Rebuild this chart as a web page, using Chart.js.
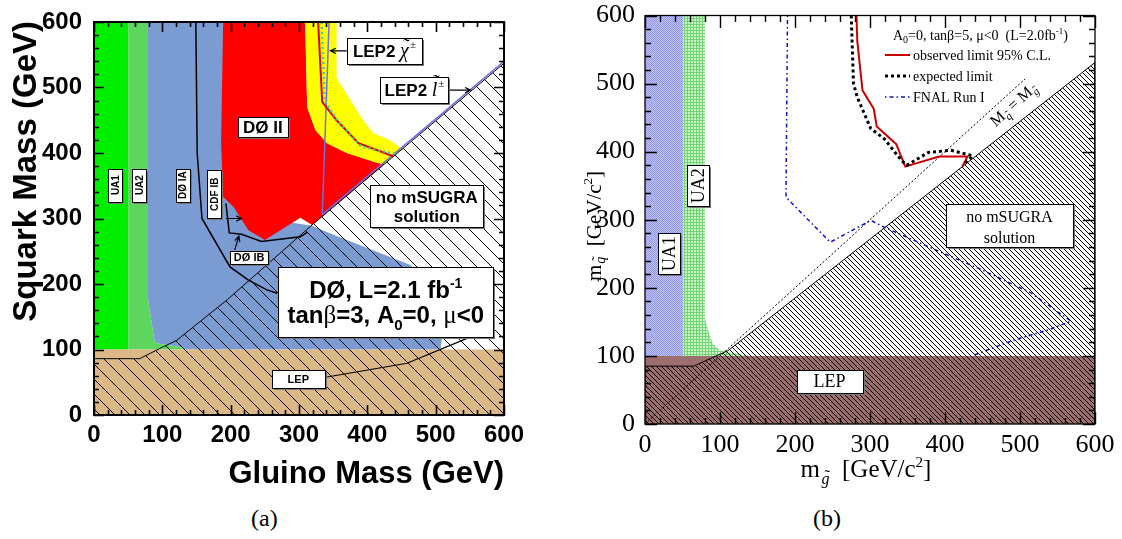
<!DOCTYPE html>
<html>
<head>
<meta charset="utf-8">
<script src="https://cdn.jsdelivr.net/npm/chart.js@4/dist/chart.umd.min.js"></script>
<style>
body { margin: 0; background: #fff; width: 1122px; height: 539px; position: relative; overflow: hidden; }
canvas { position: absolute; top: 0; }
#chartA { left: 0; }
#chartB { left: 570px; }
.cap { position: absolute; top: 505px; font: 24px "Liberation Serif", serif; color: #000; }
</style>
</head>
<body>
<canvas id="chartA" width="530" height="500"></canvas>
<canvas id="chartB" width="552" height="500"></canvas>
<div class="cap" style="left:251px">(a)</div>
<div class="cap" style="left:813px">(b)</div>
<script>
const SANS = '"Liberation Sans", Arial, sans-serif';
const SERIF = '"Liberation Serif", "Times New Roman", serif';

const massTicks = [0, 100, 200, 300, 400, 500, 600];

// (a) tanb=3, points are [gluino, squark] in GeV
const ua1A = [[0,100],[0,600],[50,600],[50,100]];
const ua2A = [[50,100],[50,600],[79,600],[79,176],[89,110],[126,104],[135,100]];
const tevA = [[79,600],[200,600],[250,300],[319,289],[346,277],[463,229],[500,190],[512,140],[507,100],[135,100],[126,104],[89,110],[79,176]];
const d0IIA = [[189,600],[186,415],[189,333],[204,318],[226,282],[250,267],[302,301],[319,290],[425,383],[414,385],[370,400],[341,415],[324,435],[312,470],[309,600]];
const bandA = [[309,600],[312,470],[324,435],[341,415],[370,400],[414,385],[425,383],[446,402],[453,405],[433,420],[409,430],[394,450],[380,473],[355,515],[355,600]];
const lepA = [[0,0],[0,100],[600,100],[600,0]];
const noSolA = [[0,0],[0,86],[67,86],[97,102],[121,114],[195,176],[319,290],[600,537],[600,0]];
const d0IaA = [[149,600],[151,400],[158,300],[199,226],[226,206],[253,191],[268,186]];
const d0IbA = [[193,323],[198,278],[216,276],[245,265],[302,272],[312,279]];
const lepLineA = [[341,58],[458,79],[546,117]];
const charginoA = [[344,600],[337,393],[334,306]];
const sleptonA = [[334,306],[600,540]];
const obsA = [[328,600],[334,478],[355,450],[387,415],[438,395]];
const expA = [[333,600],[338,478],[359,446],[391,410],[442,398]];
const arrowsA = [[193,300,216,300],[206,252,212,273],[370,556,346,556],[518,496,551,496]];

// (b) tanb=5
const ua1B = [[0,100],[0,600],[51,600],[51,100]];
const ua2B = [[51,100],[51,600],[80,600],[80,155],[85,135],[90,119],[100,108],[140,100]];
const lepB = [[0,0],[0,100],[600,100],[600,0]];
const noSolB = [[0,0],[0,85],[65,85],[111,108],[600,531],[600,0]];
const equalB = [[0,0],[507,507]];
const obsB = [[282,600],[283,563],[290,490],[305,463],[309,437],[335,411],[347,378],[392,393],[430,393],[423,378]];
const expB = [[275,600],[278,500],[283,480],[301,434],[319,419],[342,387],[349,380],[378,399],[408,402],[437,394],[426,382]];
const fnalB = [[190,600],[188,333],[247,267],[301,299],[319,289],[393,253],[446,228],[514,193],[568,151],[537,138],[491,123],[438,101]];

function tile(size, draw) {
    const c = document.createElement('canvas');
    c.width = size; c.height = size;
    const g = c.getContext('2d');
    draw(g, size);
    return g.createPattern(c, 'repeat');
}
function stripes(s, lw) {
    return tile(s, (g) => {
        g.strokeStyle = '#000'; g.lineWidth = lw;
        g.beginPath();
        for (let k = -1; k <= 1; k++) { g.moveTo(-1, -1 + k * s); g.lineTo(s + 1, s + 1 + k * s); }
        g.stroke();
    });
}
const hatchA = stripes(15, 1);
const hatchB = stripes(5, 1);
const checkB = tile(2, (g) => {
    g.fillStyle = '#c2c5fa'; g.fillRect(0, 0, 2, 2);
    g.fillStyle = '#8f95ee'; g.fillRect(0, 0, 1, 1); g.fillRect(1, 1, 1, 1);
});
const gridB = tile(3, (g) => {
    g.fillStyle = '#cbf4cb'; g.fillRect(0, 0, 3, 3);
    g.fillStyle = '#72d672'; g.fillRect(0, 0, 1, 3); g.fillRect(0, 0, 3, 1);
});

const pts = arr => arr.map(([x, y]) => ({x, y}));
function area(arr, bg, border) {
    return {data: pts(arr), showLine: true, fill: 'shape', backgroundColor: bg,
        borderColor: border || 'rgba(0,0,0,0)', borderWidth: border ? 1 : 0, pointRadius: 0};
}
function curve(arr, color, width, dash) {
    return {data: pts(arr), showLine: true, fill: false, borderColor: color,
        borderWidth: width, borderDash: dash || [], pointRadius: 0};
}
function stack(list) {
    // first entry ends up at the bottom
    list.forEach((d, i) => { d.order = list.length - i; });
    return list;
}

// part = [text, font, dy, tildeRaise]
function txt(ctx, parts, x, y, align) {
    let w = 0;
    for (const p of parts) { ctx.font = p[1]; w += ctx.measureText(p[0]).width; }
    let cx = align === 'center' ? x - w / 2 : (align === 'right' ? x - w : x);
    ctx.textBaseline = 'alphabetic'; ctx.fillStyle = '#000';
    for (const p of parts) {
        ctx.font = p[1];
        ctx.textAlign = 'left';
        const pw = ctx.measureText(p[0]).width;
        ctx.fillText(p[0], cx, y + (p[2] || 0));
        if (p[3] !== undefined) {
            ctx.textAlign = 'center';
            ctx.fillText('\u02DC', cx + pw * 0.6, y + (p[2] || 0) - p[3]);
        }
        cx += pw;
    }
    ctx.textAlign = 'left';
}
function pave(ctx, cx, cy, w, h) {
    const x0 = Math.round(cx - w / 2) + 0.5, y0 = Math.round(cy - h / 2) + 0.5;
    ctx.fillStyle = '#777'; ctx.fillRect(x0 + 1.5, y0 + 1.5, w, h);
    ctx.fillStyle = '#fff'; ctx.fillRect(x0, y0, w, h);
    ctx.strokeStyle = '#000'; ctx.lineWidth = 1; ctx.setLineDash([]);
    ctx.strokeRect(x0, y0, w, h);
}
function vlabel(ctx, c, w, h, text, font, size) {
    pave(ctx, c[0], c[1], w, h);
    ctx.save();
    ctx.translate(c[0], c[1]);
    ctx.rotate(-Math.PI / 2);
    txt(ctx, [[text, font]], 0, size * 0.36, 'center');
    ctx.restore();
}
function arrow(ctx, a, b) {
    const ang = Math.atan2(b[1] - a[1], b[0] - a[0]);
    ctx.strokeStyle = '#000'; ctx.lineWidth = 1.2; ctx.setLineDash([]);
    ctx.beginPath(); ctx.moveTo(a[0], a[1]); ctx.lineTo(b[0], b[1]);
    ctx.moveTo(b[0] - 6 * Math.cos(ang - 0.45), b[1] - 6 * Math.sin(ang - 0.45));
    ctx.lineTo(b[0], b[1]);
    ctx.lineTo(b[0] - 6 * Math.cos(ang + 0.45), b[1] - 6 * Math.sin(ang + 0.45));
    ctx.stroke();
}
// frame plus inward ticks on all four sides: major every 100, minor every 20
function drawTicks(chart, lw, tw, maj, mnr) {
    const ctx = chart.ctx;
    const a = chart.chartArea;
    const sx = chart.scales.x, sy = chart.scales.y;
    const l = Math.round(a.left), r = Math.round(a.right), t = Math.round(a.top), b = Math.round(a.bottom);
    const step = (massTicks[1] - massTicks[0]) / 5;
    const n = (massTicks[massTicks.length - 1] - massTicks[0]) / step;
    ctx.save();
    ctx.setLineDash([]);
    ctx.strokeStyle = '#000';
    ctx.lineWidth = tw;
    ctx.beginPath();
    for (let i = 0; i <= n; i++) {
        const v = massTicks[0] + i * step;
        const L = (i % 5 === 0) ? maj : mnr;
        const px = Math.round(sx.getPixelForValue(v)) + 0.5;
        const py = Math.round(sy.getPixelForValue(v)) + 0.5;
        ctx.moveTo(px, b); ctx.lineTo(px, b - L);
        ctx.moveTo(px, t); ctx.lineTo(px, t + L);
        ctx.moveTo(l, py); ctx.lineTo(l + L, py);
        ctx.moveTo(r, py); ctx.lineTo(r - L, py);
    }
    ctx.stroke();
    ctx.lineWidth = lw;
    ctx.strokeRect(a.left, a.top, a.right - a.left, a.bottom - a.top);
    ctx.restore();
}

const B = s => `bold ${s}px ${SANS}`;
const R = s => `${s}px ${SERIF}`;
const I = s => `italic ${s}px ${SERIF}`;

const decorA = {
    id: 'decorA',
    afterDatasetsDraw(chart) {
        const {ctx, scales: {x, y}} = chart;
        const P = (gx, gy) => [x.getPixelForValue(gx), y.getPixelForValue(gy)];
        ctx.save();
        arrowsA.forEach(([x0, y0, x1, y1]) => arrow(ctx, P(x0, y0), P(x1, y1)));
        vlabel(ctx, P(31, 351), 14, 33, 'UA1', B(10), 10);
        vlabel(ctx, P(66, 351), 14, 33, 'UA2', B(10), 10);
        vlabel(ctx, P(130, 351), 14, 33, 'DØ IA', B(10), 10);
        vlabel(ctx, P(176, 337), 14, 48, 'CDF IB', B(10), 10);
        let c = P(227, 241); pave(ctx, c[0], c[1], 38, 13); txt(ctx, [['DØ IB', B(11)]], c[0], c[1] + 4, 'center');
        c = P(247, 440); pave(ctx, c[0], c[1], 50, 20); txt(ctx, [['DØ II', B(17)]], c[0], c[1] + 6, 'center');
        c = P(425, 556); pave(ctx, c[0], c[1], 75, 26);
        txt(ctx, [['LEP2 ', B(17)], ['χ', I(20), 0, 4], [' ', R(4)], ['±', R(11), -9]], c[0], c[1] + 6, 'center');
        c = P(469, 496); pave(ctx, c[0], c[1], 68, 26);
        txt(ctx, [['LEP2 ', B(17)], ['l', I(20), 0, 7], [' ', R(4)], ['±', R(11), -9]], c[0], c[1] + 6, 'center');
        c = P(487, 319); pave(ctx, c[0], c[1], 113, 42);
        txt(ctx, [['no mSUGRA', B(17)]], c[0], c[1] - 3, 'center');
        txt(ctx, [['solution', B(17)]], c[0], c[1] + 16, 'center');
        c = P(427, 173); pave(ctx, c[0], c[1], 215, 70);
        txt(ctx, [['DØ, L=2.1 fb', B(24)], ['-1', B(14), -10]], c[0], c[1] - 4, 'center');
        txt(ctx, [['tan', B(24)], ['β', R(25)], ['=3, A', B(24)], ['0', B(15), 7], ['=0, ', B(24)], ['μ', R(25)], ['<0', B(24)]], c[0], c[1] + 21, 'center');
        c = P(299, 55); pave(ctx, c[0], c[1], 53, 18); txt(ctx, [['LEP', B(11)]], c[0], c[1] + 4, 'center');
        ctx.restore();
    },
    afterDraw(chart) {
        const {ctx, chartArea: a} = chart;
        drawTicks(chart, 2, 1.6, 10, 5);
        ctx.save();
        ctx.translate(36, a.top - 1);
        ctx.rotate(-Math.PI / 2);
        txt(ctx, [['Squark Mass (GeV)', B(33)]], 0, 0, 'right');
        ctx.restore();
        txt(ctx, [['Gluino Mass (GeV)', B(31)]], a.right, 483, 'right');
    }
};

const decorB = {
    id: 'decorB',
    afterDatasetsDraw(chart) {
        const {ctx, scales: {x, y}} = chart;
        const P = (gx, gy) => [x.getPixelForValue(gx), y.getPixelForValue(gy)];
        ctx.save();
        vlabel(ctx, P(32, 250), 22, 41, 'UA1', R(18), 18);
        vlabel(ctx, P(70.5, 350), 22, 41, 'UA2', R(18), 18);
        let c = P(486, 291); pave(ctx, c[0], c[1], 127, 43);
        txt(ctx, [['no mSUGRA', R(16)]], c[0], c[1] - 4, 'center');
        txt(ctx, [['solution', R(16)]], c[0], c[1] + 17, 'center');
        c = P(246, 63); pave(ctx, c[0], c[1], 66, 23);
        txt(ctx, [['LEP', R(18)]], c[0], c[1] + 6, 'center');
        // label along the Mq = Mg diagonal
        c = P(491, 469);
        ctx.save();
        ctx.translate(c[0], c[1]);
        ctx.rotate(-Math.atan2(y.getPixelForValue(0) - y.getPixelForValue(100), x.getPixelForValue(100) - x.getPixelForValue(0)));
        txt(ctx, [['M', R(16)], ['q', I(11), 4, 2], [' = M', R(16)], ['g', I(11), 4, 2]], 0, 5, 'center');
        ctx.restore();
        // legend
        txt(ctx, [['A', R(14)], ['0', R(10), 3], ['=0, tanβ=5, μ<0  (L=2.0fb', R(14)], ['-1', R(9), -6], [')', R(14)]], 323, 40, 'left');
        const items = chart.data.datasets.filter(d => d.label);
        items.forEach((d, i) => {
            const ly = 55 + i * 21;
            ctx.strokeStyle = d.borderColor; ctx.lineWidth = d.borderWidth; ctx.setLineDash(d.borderDash || []);
            ctx.beginPath(); ctx.moveTo(315, ly); ctx.lineTo(340, ly); ctx.stroke();
            ctx.setLineDash([]);
            txt(ctx, [[d.label, R(14)]], 343, ly + 4.5, 'left');
        });
        ctx.restore();
    },
    afterDraw(chart) {
        const {ctx} = chart;
        drawTicks(chart, 1.3, 1.4, 12, 6);
        ctx.save();
        ctx.translate(31, 226);
        ctx.rotate(-Math.PI / 2);
        txt(ctx, [['m', R(21)], [' ', R(4)], ['q', I(14), 4, 3], ['  [GeV/c', R(21)], ['2', R(13), -9], [']', R(21)]], 0, 0, 'center');
        ctx.restore();
        txt(ctx, [['m', R(25)], [' ', R(6)], ['g', I(16), 7, 3], ['  [GeV/c', R(25)], ['2', R(15), -10], [']', R(25)]], 296, 477, 'center');
    }
};

function axis(size, font, pad) {
    return {
        type: 'linear', min: 0, max: 600,
        grid: {display: false}, border: {display: false},
        afterBuildTicks: s => { s.ticks = massTicks.map(v => ({value: v})); },
        afterFit: s => { if (s.isHorizontal()) s.height = size; else s.width = size; },
        ticks: {font: font, color: '#000', padding: pad, maxRotation: 0, autoSkip: false}
    };
}

function build(id, datasets, padding, xH, yW, font, padX, padY, plugin) {
    return new Chart(document.getElementById(id), {
        type: 'scatter',
        data: {datasets},
        options: {
            responsive: false,
            animation: false,
            events: [],
            layout: {padding},
            plugins: {legend: {display: false}, tooltip: {enabled: false}},
            scales: {x: axis(xH, font, padX), y: axis(yW, font, padY)}
        },
        plugins: [plugin]
    });
}

build('chartA', stack([
    area(tevA, '#7b9bd3'),
    area(ua1A, '#00ee00'),
    area(ua2A, '#5cd65c'),
    area(d0IIA, '#ff0000'),
    area(bandA, '#ffff00'),
    area(lepA, '#dbb886'),
    area(noSolA, hatchA, '#000'),
    curve(d0IaA, '#000', 1.5),
    curve(d0IbA, '#000', 1.5),
    curve(lepLineA, '#000', 1.2),
    curve(charginoA, '#7070dd', 1.5),
    curve(sleptonA, '#6a6ae0', 1.5),
    curve(obsA, '#e00000', 2),
    curve(expA, '#44cc99', 2.5, [2, 3])
]), {left: 0, right: 26, top: 22, bottom: 0}, 85, 94,
    {family: SANS, size: 24, weight: 'bold', lineHeight: 1}, 0, 4, decorA);

build('chartB', stack([
    area(ua1B, checkB),
    area(ua2B, gridB),
    area(lepB, '#9e6d6d'),
    area(noSolB, hatchB, '#000'),
    curve(equalB, '#000', 1, [2, 2]),
    Object.assign(curve(obsB, '#cc0000', 2), {label: 'observed limit 95% C.L.'}),
    Object.assign(curve(expB, '#000', 3, [3, 3]), {label: 'expected limit'}),
    Object.assign(curve(fnalB, '#1010cc', 1.5, [1.5, 3, 4, 3]), {label: 'FNAL Run I'})
]), {left: 0, right: 27, top: 15.5, bottom: 0}, 76, 75,
    {family: SERIF, size: 26, lineHeight: 1}, 0, 2, decorB);
</script>
</body>
</html>
